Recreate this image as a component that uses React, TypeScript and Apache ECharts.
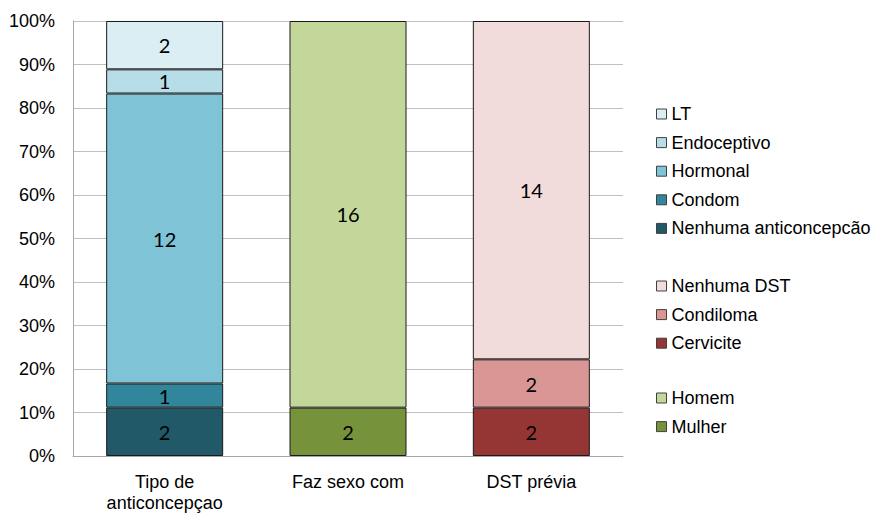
import React, { useEffect, useRef } from "react";
import * as echarts from "echarts";

const categories = ["Tipo de\nanticoncepçao", "Faz sexo com", "DST prévia"];

const contraceptionNames = ["Nenhuma anticoncepcão", "Condom", "Hormonal", "Endoceptivo", "LT"];
const contraceptionValues = [2, 1, 12, 1, 2];
const contraceptionColors = ["#215968", "#31869b", "#7fc3d6", "#b7dee8", "#daeef3"];

const partnerNames = ["Mulher", "Homem"];
const partnerValues = [2, 16];
const partnerColors = ["#76933c", "#c4d79b"];

const stdNames = ["Cervicite", "Condiloma", "Nenhuma DST"];
const stdValues = [2, 2, 14];
const stdColors = ["#963634", "#da9694", "#f2dcdb"];

const yTicks = [0, 10, 20, 30, 40, 50, 60, 70, 80, 90, 100];

const AXIS_FONT = "'Liberation Sans', Arial, sans-serif";
const LABEL_FONT = "Lato, 'Open Sans', sans-serif";

function buildSeries(names: string[], values: number[], colors: string[], catIndex: number) {
  const total = values.reduce((a, b) => a + b, 0);
  return names.map((name, k) => ({
    name,
    type: "bar",
    stack: "total",
    barWidth: 117,
    itemStyle: { color: colors[k], borderColor: "#1a1a1a", borderWidth: 1 },
    label: {
      show: true,
      position: "inside",
      color: "#000",
      fontFamily: LABEL_FONT,
      fontSize: 20,
      formatter: (p: any) => (p.data && p.data.raw != null ? String(p.data.raw) : ""),
    },
    data: categories.map((_, i) =>
      i === catIndex ? { value: (values[k] / total) * 100, raw: values[k] } : "-"
    ),
  }));
}

function legendFor(names: string[], top: number) {
  return {
    orient: "vertical",
    left: 656,
    top,
    padding: 0,
    itemWidth: 10,
    itemHeight: 10,
    itemGap: 8.6,
    icon: "rect",
    selectedMode: false,
    itemStyle: { borderColor: "#404040", borderWidth: 1 },
    textStyle: {
      fontFamily: AXIS_FONT,
      fontSize: 18,
      color: "#000",
      lineHeight: 20,
    },
    data: [...names].reverse(),
  };
}

export default function App() {
  const ref = useRef<HTMLDivElement>(null);

  useEffect(() => {
    document.body.style.margin = "0";
    if (!ref.current) return;
    const chart = echarts.init(ref.current, null, { renderer: "svg" });
    const series = [
      ...buildSeries(contraceptionNames, contraceptionValues, contraceptionColors, 0),
      ...buildSeries(partnerNames, partnerValues, partnerColors, 1),
      ...buildSeries(stdNames, stdValues, stdColors, 2),
    ];
    chart.setOption({
      animation: false,
      backgroundColor: "#fff",
      grid: { left: 73, right: 253, top: 21, bottom: 57, containLabel: false },
      legend: [
        legendFor(contraceptionNames, 104),
        legendFor(stdNames, 276),
        legendFor(partnerNames, 388),
      ],
      xAxis: {
        type: "category",
        data: categories,
        axisTick: { show: false },
        axisLine: { lineStyle: { color: "#a6a6a6", width: 1 } },
        axisLabel: {
          fontFamily: AXIS_FONT,
          fontSize: 18,
          color: "#000",
          lineHeight: 21,
          margin: 15,
          interval: 0,
        },
      },
      yAxis: {
        type: "value",
        min: yTicks[0],
        max: yTicks[yTicks.length - 1],
        interval: 10,
        axisLine: { show: true, lineStyle: { color: "#a6a6a6", width: 1 } },
        axisTick: { show: false },
        splitLine: { lineStyle: { color: "#bfbfbf", width: 1 } },
        axisLabel: {
          fontFamily: AXIS_FONT,
          fontSize: 18,
          color: "#000",
          margin: 18,
          formatter: "{value}%",
        },
      },
      series,
    });
    return () => chart.dispose();
  }, []);

  return <div ref={ref} style={{ width: 876, height: 513 }} />;
}
